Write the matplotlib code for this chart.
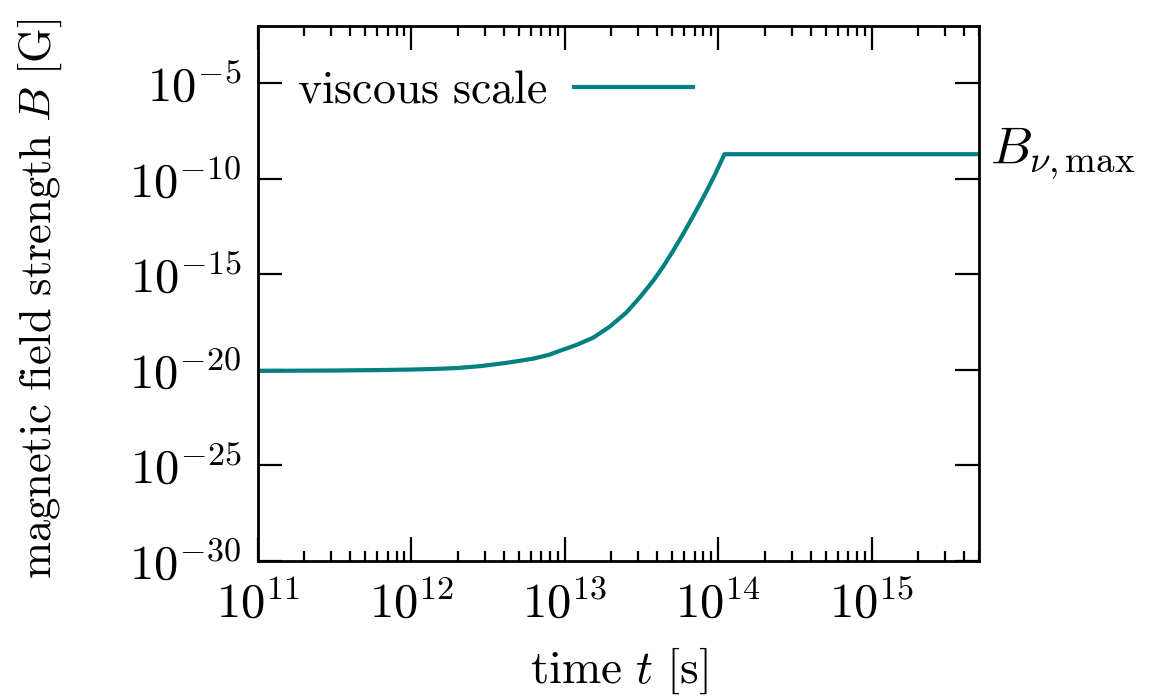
import numpy as np
import matplotlib
matplotlib.use("Agg")
import matplotlib.pyplot as plt
from matplotlib.ticker import LogLocator, FixedLocator, FuncFormatter, NullLocator

plt.rcParams['mathtext.fontset'] = 'cm'
plt.rcParams['font.family'] = ['DejaVu Serif']

# (log10 values)
log_t = [11.0, 11.25, 11.5, 11.75, 12.0, 12.15, 12.3, 12.45, 12.6, 12.7, 12.8,
         12.9, 12.967, 13.076, 13.185, 13.293, 13.40, 13.489, 13.575, 13.64,
         13.705, 13.771, 13.836, 13.88, 13.923, 13.977, 14.04, 15.7]
log_B = [-20.05, -20.04, -20.03, -20.01, -19.98, -19.95, -19.9, -19.8, -19.65,
         -19.53, -19.4, -19.2, -19.0, -18.69, -18.31, -17.73, -17.0, -16.2,
         -15.34, -14.6, -13.77, -12.88, -11.95, -11.3, -10.65, -9.8, -8.71,
         -8.71]
t = 10.0 ** np.array(log_t)
B = 10.0 ** np.array(log_B)
B_max = B[-1]

teal = '#008080'

fig = plt.figure(figsize=(11.58, 6.98), dpi=100)
ax = fig.add_axes([258/1158, 1 - 561/698, (979-258)/1158, (561-26)/698])

ax.plot(t, B, color=teal, lw=3.0, label=r'$\mathrm{viscous\ scale}$')

ax.set_xscale('log')
ax.set_yscale('log')
ax.set_xlim(1e11, 5e15)
ax.set_ylim(1e-30, 1e-2)

ax.xaxis.set_major_locator(FixedLocator([1e11, 1e12, 1e13, 1e14, 1e15]))
ax.xaxis.set_minor_locator(LogLocator(base=10, subs=np.arange(2, 10), numticks=20))
ax.yaxis.set_major_locator(FixedLocator([10.0**k for k in range(-30, -4, 5)]))
ax.yaxis.set_minor_locator(NullLocator())
fmt = FuncFormatter(lambda v, p: r'$10^{%d}$' % int(round(np.log10(v))))
ax.xaxis.set_major_formatter(fmt)
ax.yaxis.set_major_formatter(fmt)

ax.tick_params(which='both', direction='in', top=True, right=True, labelsize=35, width=1.6)
ax.tick_params(which='major', length=17)
ax.tick_params(which='minor', length=7.5)
ax.tick_params(axis='x', which='major', pad=14)
ax.tick_params(axis='y', which='major', pad=12)
for s in ax.spines.values():
    s.set_linewidth(2.0)

ax.set_xlabel(r'$\mathrm{time}\ t\ [\mathrm{s}]$', fontsize=34)
ax.set_ylabel(r'$\mathrm{magnetic\ field\ strength}\ B\ [\mathrm{G}]$', fontsize=32)
ax.xaxis.set_label_coords(0.5, -0.158)
ax.yaxis.set_label_coords(-0.269, 0.49)

ax.text(1.015, B_max, r'$B_{\nu,\mathrm{max}}$', transform=ax.get_yaxis_transform(),
        fontsize=38, va='center', ha='left')

ax.legend(loc='upper left', frameon=False, markerfirst=False, fontsize=33,
          handlelength=2.6, handletextpad=0.6, borderaxespad=0.0,
          bbox_to_anchor=(0.028, 0.957))

fig.savefig('out.png', dpi=100)
